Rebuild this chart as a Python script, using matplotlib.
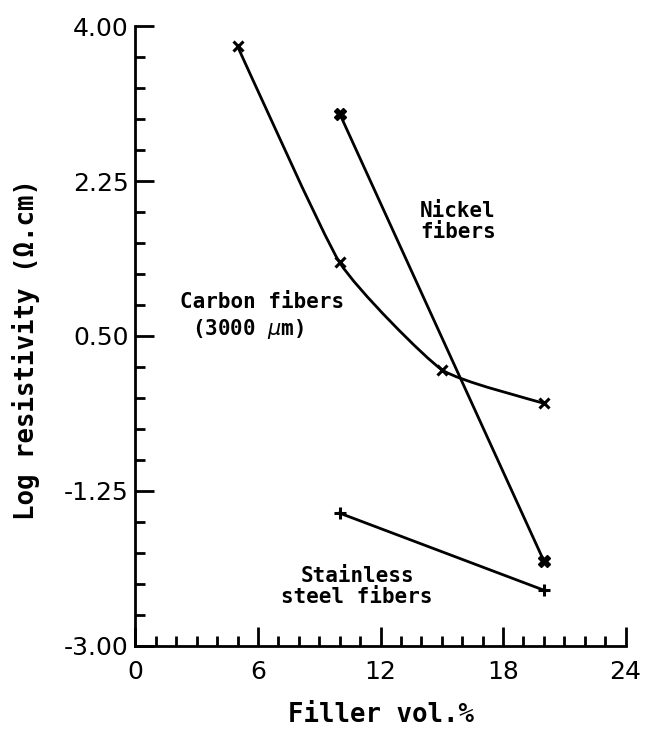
import numpy as np
import matplotlib
matplotlib.use("Agg")
from matplotlib import pyplot as plt
from matplotlib.path import Path
from matplotlib.patches import PathPatch
from matplotlib.ticker import MultipleLocator, FixedLocator

# data
carbon_x = [5, 10, 15, 20]
carbon_y = [3.77, 1.33, 0.12, -0.26]
nickel_x = [10, 20]
nickel_y = [3.01, -2.04]
steel_x = [10, 20]
steel_y = [-1.50, -2.37]

x_ticks = [0, 6, 12, 18, 24]
y_ticks = [-3.00, -1.25, 0.50, 2.25, 4.00]
y_labels = ["-3.00", "-1.25", "0.50", "2.25", "4.00"]

MONO = "DejaVu Sans Mono"
LW = 2.0


def smooth_path(xs, ys, k=12.0):
    # catmull-rom style curve through the points (cubic bezier segments)
    pts = np.column_stack([xs, ys]).astype(float)
    verts = [pts[0]]
    codes = [Path.MOVETO]
    n = len(pts)
    for i in range(n - 1):
        p0 = pts[i - 1] if i > 0 else pts[i]
        p1 = pts[i]
        p2 = pts[i + 1]
        p3 = pts[i + 2] if i + 2 < n else pts[i + 1]
        c1 = p1 + (p2 - p0) / k
        c2 = p2 - (p3 - p1) / k
        verts += [c1, c2, p2]
        codes += [Path.CURVE4] * 3
    return Path(verts, codes)


def main():
    fig = plt.figure(figsize=(6.47, 7.29), dpi=100)
    ax = fig.add_axes([0.2094, 0.1139, 0.7574, 0.8504])

    ax.add_patch(PathPatch(smooth_path(carbon_x, carbon_y), fill=False,
                           lw=LW, color="black"))
    ax.plot(carbon_x, carbon_y, ls="none", marker="x", ms=7, mew=2.2,
            color="black")

    ax.plot(nickel_x, nickel_y, lw=LW, color="black")
    ax.plot(nickel_x, nickel_y, ls="none", marker="X", ms=8, mew=1,
            color="black")

    ax.plot(steel_x, steel_y, lw=LW, color="black", marker="+", ms=8,
            mew=2.2)

    ax.set_xlim(0, 24)
    ax.set_ylim(-3, 4)

    for s in ["top", "right"]:
        ax.spines[s].set_visible(False)
    for s in ["left", "bottom"]:
        ax.spines[s].set_linewidth(LW)

    ax.xaxis.set_major_locator(FixedLocator(x_ticks))
    ax.xaxis.set_minor_locator(MultipleLocator(1))
    ax.yaxis.set_major_locator(FixedLocator(y_ticks))
    ax.yaxis.set_minor_locator(MultipleLocator(0.35, offset=0.5))
    ax.set_yticklabels(y_labels)

    ax.tick_params(axis="both", which="major", direction="in", length=14,
                   width=LW, labelsize=18)
    ax.tick_params(axis="both", which="minor", direction="in", length=7,
                   width=LW)
    ax.tick_params(axis="x", pad=10)
    ax.tick_params(axis="y", pad=5)
    for lab in ax.get_xticklabels() + ax.get_yticklabels():
        lab.set_fontfamily("DejaVu Sans")

    ax.set_xlabel("Filler vol.%", fontsize=18.5, fontfamily=MONO,
                  fontweight="bold")
    ax.xaxis.set_label_coords(0.5, -0.09)
    ax.set_ylabel("Log resistivity (\u03a9.cm)", fontsize=18.5,
                  fontfamily=MONO, fontweight="bold")
    ax.yaxis.set_label_coords(-0.195, 0.479)

    txt = dict(fontsize=15, fontfamily=MONO, fontweight="bold",
               color="black", linespacing=1.05)
    ax.text(15.8, 1.79, "Nickel\nfibers", ha="center", va="center", **txt)
    ax.text(6.2, 0.88, "Carbon fibers", ha="center", va="center", **txt)
    ax.text(5.5, 0.58, "(3000 $\\mu$m)", ha="center", va="center", **txt)
    ax.text(10.85, -2.33, "Stainless\nsteel fibers", ha="center",
            va="center", **txt)

    fig.savefig("out.png", dpi=100)


if __name__ == '__main__':
    main()
